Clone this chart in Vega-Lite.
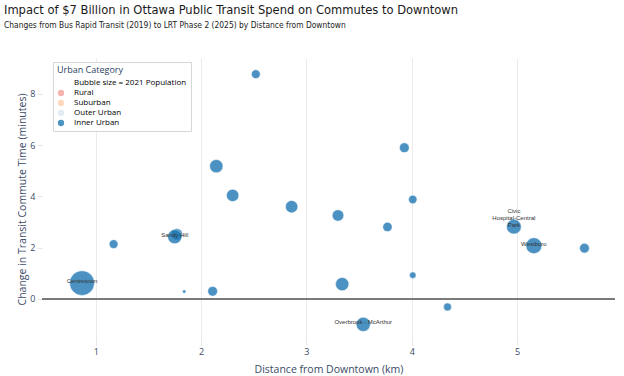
{
  "$schema": "https://vega.github.io/schema/vega-lite/v6.json",
  "width": 573,
  "height": 282,
  "autosize": {"type": "none"},
  "padding": {"left": 42, "top": 58, "right": 9, "bottom": 36},
  "background": "white",
  "title": {
    "text": "Impact of $7 Billion in Ottawa Public Transit Spend on Commutes to Downtown",
    "subtitle": "Changes from Bus Rapid Transit (2019) to LRT Phase 2 (2025) by Distance from Downtown",
    "anchor": "start",
    "frame": "group",
    "dx": -38,
    "offset": 29,
    "font": "Liberation Sans Narrow, DejaVu Sans Condensed, Roboto Condensed, Roboto",
    "fontSize": 12.8,
    "fontWeight": "normal",
    "color": "#1a1a1a",
    "subtitleFont": "Liberation Sans Narrow, DejaVu Sans Condensed, Roboto Condensed, Roboto",
    "subtitleFontSize": 8.4,
    "subtitleColor": "#1a1a1a",
    "subtitlePadding": 4
  },
  "config": {
    "view": {"stroke": null},
    "axis": {
      "domain": false,
      "gridColor": "#ebebeb",
      "gridWidth": 1,
      "tickColor": "#e6e6e6",
      "tickSize": 5,
      "labelFont": "Open Sans",
      "labelFontSize": 9,
      "labelColor": "#3b4a66",
      "titleFont": "Open Sans",
      "titleFontSize": 10.5,
      "titleFontWeight": "normal",
      "titleColor": "#3b4a66"
    }
  },
  "data": {
    "values": [
      {"distance": 0.87, "change": 0.62, "population": 26000, "category": "Inner Urban", "label": "Centretown"},
      {"distance": 2.52, "change": 8.77, "population": 3300, "category": "Inner Urban", "label": ""},
      {"distance": 3.93, "change": 5.9, "population": 4000, "category": "Inner Urban", "label": ""},
      {"distance": 2.145, "change": 5.18, "population": 7500, "category": "Inner Urban", "label": ""},
      {"distance": 2.3, "change": 4.04, "population": 6500, "category": "Inner Urban", "label": ""},
      {"distance": 4.01, "change": 3.88, "population": 3000, "category": "Inner Urban", "label": ""},
      {"distance": 2.86, "change": 3.6, "population": 6500, "category": "Inner Urban", "label": ""},
      {"distance": 3.3, "change": 3.26, "population": 5600, "category": "Inner Urban", "label": ""},
      {"distance": 3.77, "change": 2.81, "population": 3700, "category": "Inner Urban", "label": ""},
      {"distance": 4.97, "change": 2.82, "population": 9200, "category": "Inner Urban", "label": "Civic\nHospital-Central\nPark"},
      {"distance": 5.16, "change": 2.08, "population": 10800, "category": "Inner Urban", "label": "Westboro"},
      {"distance": 5.64, "change": 1.98, "population": 4000, "category": "Inner Urban", "label": ""},
      {"distance": 1.17, "change": 2.14, "population": 3300, "category": "Inner Urban", "label": ""},
      {"distance": 1.77, "change": 2.52, "population": 5600, "category": "Inner Urban", "label": ""},
      {"distance": 1.75, "change": 2.43, "population": 8500, "category": "Inner Urban", "label": "Sandy Hill"},
      {"distance": 1.84, "change": 0.29, "population": 530, "category": "Inner Urban", "label": ""},
      {"distance": 2.11, "change": 0.3, "population": 4000, "category": "Inner Urban", "label": ""},
      {"distance": 3.34, "change": 0.58, "population": 7500, "category": "Inner Urban", "label": ""},
      {"distance": 4.01, "change": 0.93, "population": 1800, "category": "Inner Urban", "label": ""},
      {"distance": 4.34, "change": -0.31, "population": 2700, "category": "Inner Urban", "label": ""},
      {"distance": 3.54, "change": -0.99, "population": 8500, "category": "Inner Urban", "label": "Overbrook - McArthur"}
    ]
  },
  "layer": [
    {
      "mark": {"type": "rule", "color": "#7a7a7a", "strokeWidth": 2},
      "encoding": {
        "y": {"datum": 0, "type": "quantitative", "scale": {"domain": [-1.6, 9.4]}, "title": "Change in Transit Commute Time (minutes)"}
      }
    },
    {
      "mark": {"type": "circle", "opacity": 0.8, "stroke": "white", "strokeWidth": 0.5},
      "encoding": {
        "x": {"field": "distance", "type": "quantitative", "scale": {"domain": [0.49, 5.93], "nice": false, "zero": false}, "axis": {"values": [1, 2, 3, 4, 5], "format": "d", "titlePadding": 8}, "title": "Distance from Downtown (km)"},
        "y": {"field": "change", "type": "quantitative", "scale": {"domain": [-1.6, 9.4], "nice": false, "zero": false}, "axis": {"values": [0, 2, 4, 6, 8], "titlePadding": 2}, "title": "Change in Transit Commute Time (minutes)"},
        "size": {"field": "population", "type": "quantitative", "scale": {"domain": [0, 26000], "range": [0, 616], "zero": true}, "legend": null},
        "color": {
          "field": "category",
          "type": "nominal",
          "scale": {
            "domain": ["Bubble size = 2021 Population", "Rural", "Suburban", "Outer Urban", "Inner Urban"],
            "range": ["#ffffff", "#f4a09c", "#fdd0ae", "#dde6f0", "#1f77b4"]
          },
          "legend": {
            "title": "Urban Category",
            "orient": "none",
            "legendX": 11,
            "legendY": 4,
            "titleFont": "Open Sans",
            "titleFontSize": 9,
            "titleFontWeight": "normal",
            "titleColor": "#2a3f5f",
            "titlePadding": 4,
            "labelFont": "Open Sans",
            "labelFontSize": 8,
            "symbolType": "circle",
            "symbolSize": 40,
            "symbolStrokeWidth": 0,
            "padding": 4,
            "strokeColor": "#d6d6d6",
            "fillColor": "white",
            "rowPadding": 2,
            "labelOffset": 9,
            "encode": {
              "labels": {
                "enter": {
                  "dx": {"signal": "datum.label === 'Bubble size = 2021 Population' ? -19 : 0"}
                },
                "update": {
                  "fill": {"signal": "datum.label === 'Inner Urban' ? '#2a3f5f' : datum.label === 'Bubble size = 2021 Population' ? '#222222' : '#aab0bd'"},
                  "fontSize": {"signal": "datum.label === 'Bubble size = 2021 Population' ? 5.5 : 8"},
                  "dx": {"signal": "datum.label === 'Bubble size = 2021 Population' ? -19 : 0"}
                }
              },
              "symbols": {
                "update": {
                  "opacity": {"signal": "datum.label === 'Bubble size = 2021 Population' ? 0 : 1"}
                }
              }
            }
          }
        }
      }
    },
    {
      "transform": [{"filter": "datum.label != '' && indexof(datum.label, 'Civic') < 0"}],
      "mark": {"type": "text", "font": "Liberation Sans", "fontSize": 6, "color": "#333333", "baseline": "bottom", "dy": 1},
      "encoding": {
        "x": {"field": "distance", "type": "quantitative"},
        "y": {"field": "change", "type": "quantitative"},
        "text": {"field": "label"}
      }
    },
    {
      "transform": [{"filter": "indexof(datum.label, 'Civic') >= 0"}],
      "mark": {"type": "text", "font": "Liberation Sans", "fontSize": 6, "color": "#333333", "baseline": "bottom", "dy": -12.4, "lineBreak": "\n", "lineHeight": 6.7},
      "encoding": {
        "x": {"field": "distance", "type": "quantitative"},
        "y": {"field": "change", "type": "quantitative"},
        "text": {"field": "label"}
      }
    }
  ]
}
